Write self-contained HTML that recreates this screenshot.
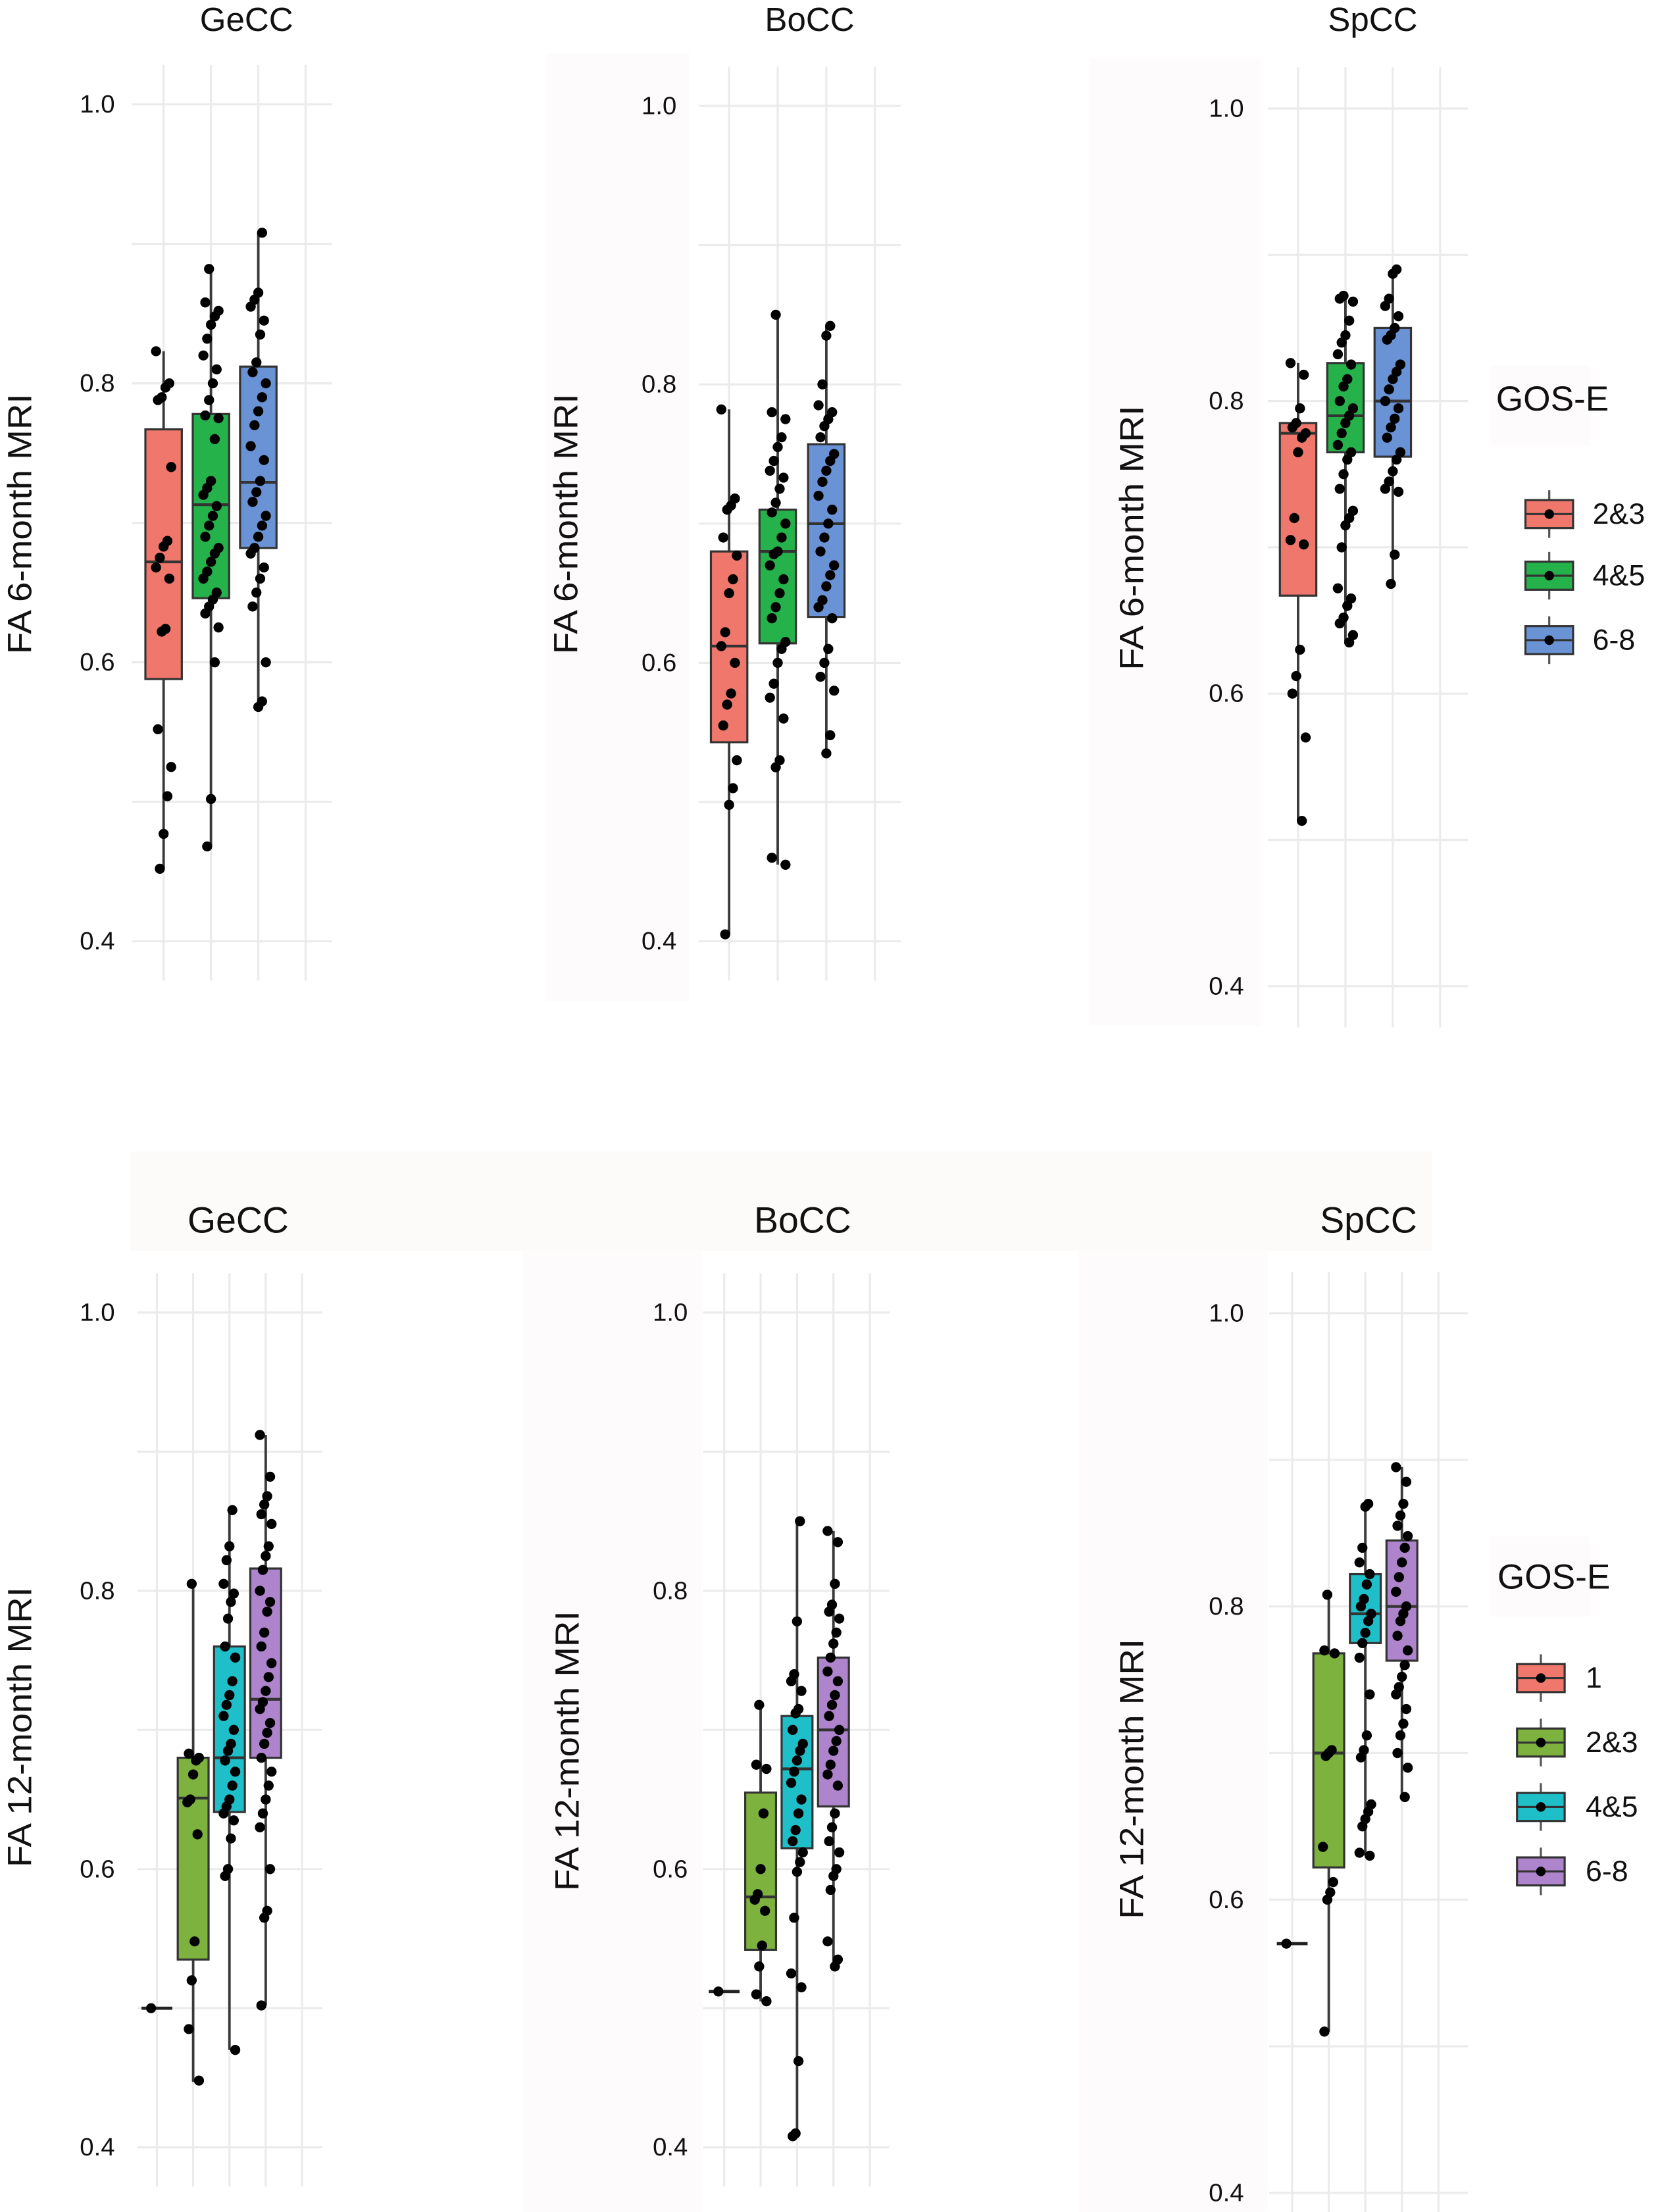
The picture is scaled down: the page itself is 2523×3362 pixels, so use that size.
<!DOCTYPE html>
<html><head><meta charset="utf-8"><style>
html,body{margin:0;padding:0;background:#fff;}
svg{display:block;}
text{font-family:"Liberation Sans",sans-serif;fill:#111;}
</style></head><body>
<svg id="chart" xmlns="http://www.w3.org/2000/svg" width="2523" height="3362" viewBox="0 0 1185.06 1579.15" preserveAspectRatio="none">
<rect x="0" y="0" width="1185.06" height="1579.15" fill="#ffffff"/>
<g>
<rect x="390" y="38" width="102" height="677" fill="#fdfbfb"/>
<rect x="778" y="42" width="122" height="690" fill="#fdfbfb"/>
<rect x="93" y="822" width="929" height="71" fill="#fdfafa"/>
<rect x="373" y="893" width="128" height="686" fill="#fdfbfb"/>
<rect x="770" y="893" width="135" height="686" fill="#fdfbfb"/>
<rect x="1064" y="261" width="71" height="57" fill="#fdfbfb"/>
<rect x="1064" y="1097" width="71" height="57" fill="#fdfbfb"/>
</g>
</svg>
<script>
// ---------- DATA ----------
const yTicks = [0.4, 0.6, 0.8, 1.0];
const yTickLabels = ["0.4", "0.6", "0.8", "1.0"];
const topGroups = ["2&3", "4&5", "6-8"];
const bottomGroups = ["1", "2&3", "4&5", "6-8"];
const regions = ["GeCC", "BoCC", "SpCC"];

// top row: 6-month MRI
const geTopQ1 = [0.588, 0.646, 0.682];
const geTopMed = [0.672, 0.713, 0.729];
const geTopQ3 = [0.767, 0.778, 0.812];
const geTopLo = [0.452, 0.468, 0.570];
const geTopHi = [0.823, 0.882, 0.908];
const geTopPts = [
 [0.823,0.800,0.797,0.790,0.788,0.740,0.687,0.683,0.675,0.668,0.660,0.624,0.622,0.552,0.525,0.504,0.477,0.452],
 [0.882,0.858,0.852,0.848,0.842,0.832,0.820,0.810,0.800,0.788,0.777,0.775,0.760,0.730,0.725,0.720,0.712,0.705,0.698,0.690,0.682,0.678,0.672,0.665,0.660,0.650,0.645,0.640,0.635,0.625,0.600,0.502,0.468],
 [0.908,0.865,0.860,0.855,0.845,0.835,0.815,0.808,0.800,0.790,0.780,0.770,0.755,0.745,0.730,0.722,0.715,0.705,0.698,0.690,0.682,0.678,0.668,0.660,0.650,0.640,0.600,0.572,0.568]];

const boTopQ1 = [0.543, 0.614, 0.633];
const boTopMed = [0.612, 0.680, 0.700];
const boTopQ3 = [0.680, 0.710, 0.757];
const boTopLo = [0.405, 0.455, 0.533];
const boTopHi = [0.782, 0.850, 0.842];
const boTopPts = [
 [0.782,0.718,0.713,0.710,0.690,0.677,0.660,0.650,0.622,0.612,0.600,0.578,0.570,0.555,0.530,0.510,0.498,0.405],
 [0.850,0.780,0.775,0.762,0.755,0.745,0.738,0.733,0.725,0.715,0.708,0.700,0.690,0.680,0.678,0.670,0.660,0.650,0.640,0.632,0.615,0.610,0.600,0.585,0.575,0.560,0.530,0.525,0.460,0.455],
 [0.842,0.835,0.800,0.785,0.780,0.775,0.770,0.762,0.750,0.745,0.738,0.730,0.720,0.710,0.700,0.690,0.680,0.670,0.663,0.655,0.645,0.640,0.632,0.610,0.600,0.590,0.580,0.548,0.535]];

const spTopQ1 = [0.667, 0.765, 0.762];
const spTopMed = [0.778, 0.790, 0.800];
const spTopQ3 = [0.785, 0.826, 0.850];
const spTopLo = [0.513, 0.635, 0.675];
const spTopHi = [0.826, 0.872, 0.890];
const spTopPts = [
 [0.826,0.818,0.795,0.785,0.782,0.778,0.775,0.765,0.720,0.705,0.702,0.630,0.612,0.600,0.570,0.513],
 [0.872,0.870,0.868,0.855,0.845,0.840,0.832,0.825,0.815,0.810,0.800,0.795,0.790,0.785,0.778,0.770,0.765,0.760,0.750,0.740,0.725,0.720,0.715,0.700,0.672,0.665,0.660,0.652,0.648,0.640,0.635],
 [0.890,0.887,0.870,0.865,0.858,0.850,0.845,0.842,0.825,0.820,0.815,0.808,0.800,0.795,0.788,0.782,0.775,0.765,0.760,0.752,0.745,0.740,0.738,0.695,0.675]];

// bottom row: 12-month MRI
const geBotQ1 = [0.500, 0.535, 0.641, 0.680];
const geBotMed = [0.500, 0.651, 0.680, 0.722];
const geBotQ3 = [0.500, 0.680, 0.760, 0.816];
const geBotLo = [0.500, 0.447, 0.470, 0.502];
const geBotHi = [0.500, 0.805, 0.858, 0.912];
const geBotPts = [
 [0.500],
 [0.805,0.683,0.680,0.678,0.668,0.650,0.648,0.625,0.548,0.520,0.485,0.448],
 [0.858,0.832,0.822,0.805,0.798,0.792,0.780,0.760,0.752,0.735,0.725,0.718,0.710,0.700,0.690,0.685,0.678,0.670,0.660,0.650,0.645,0.640,0.635,0.622,0.600,0.595,0.470],
 [0.912,0.882,0.868,0.862,0.855,0.848,0.832,0.825,0.815,0.800,0.792,0.785,0.770,0.760,0.748,0.738,0.728,0.720,0.715,0.705,0.698,0.690,0.680,0.670,0.660,0.650,0.640,0.630,0.600,0.570,0.565,0.502]];

const boBotQ1 = [0.512, 0.542, 0.615, 0.645];
const boBotMed = [0.512, 0.580, 0.672, 0.700];
const boBotQ3 = [0.512, 0.655, 0.710, 0.752];
const boBotLo = [0.512, 0.505, 0.410, 0.530];
const boBotHi = [0.512, 0.718, 0.850, 0.843];
const boBotPts = [
 [0.512],
 [0.718,0.675,0.672,0.640,0.600,0.582,0.578,0.570,0.545,0.530,0.510,0.505],
 [0.850,0.778,0.740,0.735,0.728,0.715,0.712,0.700,0.690,0.685,0.678,0.670,0.662,0.650,0.640,0.628,0.620,0.612,0.605,0.598,0.565,0.525,0.515,0.462,0.410,0.408],
 [0.843,0.835,0.805,0.790,0.785,0.780,0.770,0.762,0.752,0.742,0.735,0.725,0.718,0.710,0.700,0.692,0.685,0.675,0.668,0.660,0.640,0.630,0.620,0.612,0.600,0.595,0.585,0.548,0.535,0.530]];

const spBotQ1 = [0.570, 0.622, 0.775, 0.763];
const spBotMed = [0.570, 0.700, 0.795, 0.800];
const spBotQ3 = [0.570, 0.768, 0.822, 0.845];
const spBotLo = [0.570, 0.510, 0.630, 0.668];
const spBotHi = [0.570, 0.808, 0.870, 0.895];
const spBotPts = [
 [0.570],
 [0.808,0.770,0.768,0.702,0.700,0.698,0.636,0.612,0.605,0.600,0.510],
 [0.870,0.868,0.840,0.830,0.822,0.815,0.805,0.800,0.795,0.790,0.782,0.775,0.765,0.740,0.712,0.702,0.697,0.665,0.660,0.655,0.650,0.632,0.630],
 [0.895,0.885,0.870,0.862,0.855,0.848,0.840,0.830,0.820,0.810,0.800,0.795,0.790,0.780,0.770,0.760,0.752,0.745,0.740,0.730,0.720,0.712,0.700,0.690,0.670]];

// ---------- STYLE / LAYOUT ----------
const topColors = ["#F0776C", "#26B24B", "#6A93D6"];
const botColors = ["#F0776C", "#7DB23F", "#1FBFC9", "#AE84CC"];
const NS = "http://www.w3.org/2000/svg";
const svg = document.getElementById("chart");

function mk(tag, attrs, parent) {
  const e = document.createElementNS(NS, tag);
  for (const k in attrs) e.setAttribute(k, attrs[k]);
  (parent || svg).appendChild(e);
  return e;
}

function drawPanel(L, q1, med, q3, lo, hi, pts, colors, groups, title, ylab, key) {
  const g = mk("g", {});
  
  
  const y = v => L.y1 + (1.0 - v) * (L.y04 - L.y1) / 0.6;
  const x = i => L.x0 + i * L.dx;
  const ext = (L.y04 - L.y1) * 0.047;
  for (let v = 0.4; v <= 1.0001; v += 0.1) {
    const ln = mk("line", {x1: L.gx0, x2: L.gx1, y1: y(v), y2: y(v), stroke: "#ebebeb", "stroke-width": 1.5}, g);
    
    
  }
  for (let i = 0; i < L.nSlots; i++) {
    const ln = mk("line", {x1: x(i), x2: x(i), y1: y(1.0) - ext, y2: y(0.4) + ext, stroke: "#ebebeb", "stroke-width": 1.5}, g);
    
    
  }
  yTicks.forEach((v, i) => {
    const t = mk("text", {x: L.lx, y: y(v), "text-anchor": "end", "dominant-baseline": "central", "font-size": 18}, g);
    t.textContent = yTickLabels[i];
    
    
  });
  const tt = mk("text", {x: L.tx, y: L.ty, "text-anchor": "middle", "font-size": L.tfs}, g);
  tt.textContent = title;
  
  
  const yl = mk("text", {x: 0, y: 0, "text-anchor": "middle", "dominant-baseline": "central", "font-size": 24,
    textLength: L.ylen, lengthAdjust: "spacingAndGlyphs", transform: `translate(${L.ylx},${L.yly}) rotate(-90)`}, g);
  yl.textContent = ylab;
  
  
  const hw = L.bw / 2;
  q1.forEach((_, i) => {
    const cx = x(i);
    const bg = mk("g", {}, g);
    
    
    if (lo[i] === hi[i]) {
      const fl = mk("line", {x1: cx - hw, x2: cx + hw, y1: y(med[i]), y2: y(med[i]), stroke: "#222", "stroke-width": 2.2}, bg);
      
      
    } else {
      const w1 = mk("line", {x1: cx, x2: cx, y1: y(hi[i]), y2: y(q3[i]), stroke: "#3a3a3a", "stroke-width": 1.8}, bg);
      
      
      const w2 = mk("line", {x1: cx, x2: cx, y1: y(q1[i]), y2: y(lo[i]), stroke: "#3a3a3a", "stroke-width": 1.8}, bg);
      
      
      const r = mk("rect", {x: cx - hw, y: y(q3[i]), width: L.bw, height: y(q1[i]) - y(q3[i]), fill: colors[i], stroke: "#333", "stroke-width": 1.5}, bg);
      
      
      const m = mk("line", {x1: cx - hw, x2: cx + hw, y1: y(med[i]), y2: y(med[i]), stroke: "#333", "stroke-width": 2}, bg);
      
      
    }
    pts[i].forEach((v, j) => {
      const jit = (((j * 7 + i * 3) % 9) - 4) / 4;
      const px = cx + jit * L.dx * 0.16;
      const c = mk("circle", {cx: px, cy: y(v), r: 3.6, fill: "#000"}, bg);
      
      
    });
  });
}

const Ltop1 = {x0:116.8, dx:33.8, nSlots:4, bw:26, y1:74.5, y04:672, gx0:94, gx1:237, lx:82, tx:176, ty:22, tfs:24, ylx:14, yly:374, ylen:186};
const Ltop2 = {x0:520.5, dx:34.7, nSlots:4, bw:26, y1:75.6, y04:672, gx0:499, gx1:643, lx:483, tx:578, ty:22, tfs:24, ylx:404, yly:374, ylen:186};
const Ltop3 = {x0:926.7, dx:33.8, nSlots:4, bw:26, y1:77.5, y04:704, gx0:905, gx1:1048, lx:888, tx:980, ty:22, tfs:24, ylx:808, yly:384, ylen:189};
const Lbot1 = {x0:112, dx:25.9, nSlots:5, bw:22, y1:937, y04:1533, gx0:98, gx1:230, lx:82, tx:170, ty:880, tfs:26, ylx:14, yly:1233, ylen:200};
const Lbot2 = {x0:517, dx:26, nSlots:5, bw:22, y1:937, y04:1533, gx0:502, gx1:635, lx:491, tx:573, ty:880, tfs:26, ylx:405, yly:1250, ylen:200};
const Lbot3 = {x0:922.5, dx:26.1, nSlots:5, bw:22, y1:937.5, y04:1565.5, gx0:906, gx1:1048, lx:888, tx:977, ty:880, tfs:26, ylx:808, yly:1270, ylen:200};

drawPanel(Ltop1, geTopQ1, geTopMed, geTopQ3, geTopLo, geTopHi, geTopPts, topColors, topGroups, regions[0], "FA 6-month MRI", "gecc-6m");
drawPanel(Ltop2, boTopQ1, boTopMed, boTopQ3, boTopLo, boTopHi, boTopPts, topColors, topGroups, regions[1], "FA 6-month MRI", "bocc-6m");
drawPanel(Ltop3, spTopQ1, spTopMed, spTopQ3, spTopLo, spTopHi, spTopPts, topColors, topGroups, regions[2], "FA 6-month MRI", "spcc-6m");
drawPanel(Lbot1, geBotQ1, geBotMed, geBotQ3, geBotLo, geBotHi, geBotPts, botColors, bottomGroups, regions[0], "FA 12-month MRI", "gecc-12m");
drawPanel(Lbot2, boBotQ1, boBotMed, boBotQ3, boBotLo, boBotHi, boBotPts, botColors, bottomGroups, regions[1], "FA 12-month MRI", "bocc-12m");
drawPanel(Lbot3, spBotQ1, spBotMed, spBotQ3, spBotLo, spBotHi, spBotPts, botColors, bottomGroups, regions[2], "FA 12-month MRI", "spcc-12m");

function drawLegend(tx, ty, keyX, keyYs, labX, labels, colors, name) {
  const g = mk("g", {});
  
  
  const t = mk("text", {x: tx, y: ty, "font-size": 25}, g);
  t.textContent = "GOS-E";
  
  
  labels.forEach((lab, i) => {
    const cy = keyYs[i];
    const e = mk("g", {}, g);
    
    
    mk("line", {x1: keyX + 17, x2: keyX + 17, y1: cy - 17, y2: cy + 17, stroke: "#555", "stroke-width": 1.5}, e);
    mk("rect", {x: keyX, y: cy - 10, width: 34, height: 20, fill: colors[i], stroke: "#333", "stroke-width": 1.5}, e);
    mk("line", {x1: keyX, x2: keyX + 34, y1: cy, y2: cy, stroke: "#333", "stroke-width": 1.5}, e);
    mk("circle", {cx: keyX + 17, cy: cy, r: 3.4, fill: "#000"}, e);
    const lt = mk("text", {x: labX, y: cy, "dominant-baseline": "central", "font-size": 21}, e);
    lt.textContent = lab;
    
    
  });
}
drawLegend(1068, 293, 1089, [367, 411, 457], 1137, topGroups, topColors, "legend-6m");
drawLegend(1069, 1134, 1083, [1198, 1244, 1290, 1336], 1132, bottomGroups, botColors, "legend-12m");
</script>
</body></html>
